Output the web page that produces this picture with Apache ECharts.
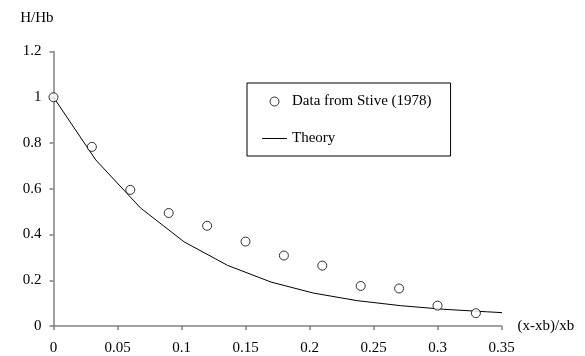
<!DOCTYPE html>
<html>
<head>
<meta charset="utf-8">
<script src="https://cdn.jsdelivr.net/npm/echarts@6/dist/echarts.min.js"></script>
<style>
  html, body { margin: 0; padding: 0; background: #fff; }
  #chart { width: 585px; height: 356px; }
</style>
</head>
<body>
<div id="chart"></div>
<script>
// Stive (1978) measurements
const dataX = [0, 0.03, 0.06, 0.09, 0.12, 0.15, 0.18, 0.21, 0.24, 0.27, 0.30, 0.33]
const dataY = [1.0, 0.783, 0.595, 0.494, 0.438, 0.369, 0.308, 0.264, 0.175, 0.164, 0.089, 0.056]

// theory curve (polyline)
const theoryX = [0, 0.033, 0.068, 0.102, 0.136, 0.170, 0.203, 0.237, 0.271, 0.305, 0.339, 0.355]
const theoryY = [1.0, 0.726, 0.516, 0.368, 0.265, 0.192, 0.144, 0.111, 0.089, 0.073, 0.062, 0.057]

const xTicks = [0, 0.05, 0.1, 0.15, 0.2, 0.25, 0.3, 0.35]
const yTicks = [0, 0.2, 0.4, 0.6, 0.8, 1, 1.2]

const font = 'Liberation Serif, Times New Roman, serif'
const axisGrey = '#808080'

const chart = echarts.init(document.getElementById('chart'))

const option = {
  backgroundColor: '#fff',
  animation: false,
  textStyle: { fontFamily: font, color: '#000' },
  grid: { left: 53.5, right: 83.5, top: 51.5, bottom: 29.5, containLabel: false },
  legend: {
    orient: 'vertical',
    left: 247,
    top: 83,
    padding: [10, 19, 9, 15],
    itemGap: 20,
    itemWidth: 25,
    itemHeight: 9,
    borderColor: '#000',
    borderWidth: 1,
    textStyle: { fontFamily: font, fontSize: 15, color: '#000', lineHeight: 17 },
    data: [
      { name: 'Data from Stive (1978)', icon: 'circle', itemStyle: { color: '#fff', borderColor: '#000', borderWidth: 1 } },
      { name: 'Theory', icon: 'path://M0,0L25,0L25,1L0,1Z', itemStyle: { color: '#000' } }
    ]
  },
  xAxis: {
    type: 'value',
    min: 0,
    max: xTicks[xTicks.length - 1],
    interval: 0.05,
    name: '(x-xb)/xb',
    nameLocation: 'end',
    nameGap: 16,
    nameTextStyle: { fontFamily: font, fontSize: 15, color: '#000', verticalAlign: 'middle' },
    axisLine: { lineStyle: { color: axisGrey, width: 1.5 } },
    axisTick: { show: true, inside: false, length: 4, lineStyle: { color: axisGrey, width: 1.5 } },
    axisLabel: { fontFamily: font, fontSize: 15, color: '#000', margin: 15, formatter: v => String(+v.toFixed(2)) },
    splitLine: { show: false }
  },
  yAxis: {
    type: 'value',
    min: 0,
    max: yTicks[yTicks.length - 1],
    interval: 0.2,
    name: 'H/Hb',
    nameLocation: 'end',
    nameGap: 26,
    nameTextStyle: { fontFamily: font, fontSize: 15, color: '#000', align: 'right' },
    axisLine: { show: true, lineStyle: { color: axisGrey, width: 1.5 } },
    axisTick: { show: true, inside: false, length: 4, lineStyle: { color: axisGrey, width: 1.5 } },
    axisLabel: { fontFamily: font, fontSize: 15, color: '#000', margin: 12, formatter: v => String(+v.toFixed(1)) },
    splitLine: { show: false }
  },
  series: [
    {
      name: 'Data from Stive (1978)',
      type: 'scatter',
      symbol: 'circle',
      symbolSize: 9,
      itemStyle: { color: '#fff', borderColor: '#000', borderWidth: 1 },
      z: 3,
      data: dataX.map((x, i) => [x, dataY[i]])
    },
    {
      name: 'Theory',
      type: 'line',
      showSymbol: false,
      symbol: 'none',
      itemStyle: { color: '#000' },
      lineStyle: { color: '#000', width: 1 },
      z: 2,
      data: theoryX.map((x, i) => [x, theoryY[i]])
    }
  ]
}

chart.setOption(option)
</script>
</body>
</html>
